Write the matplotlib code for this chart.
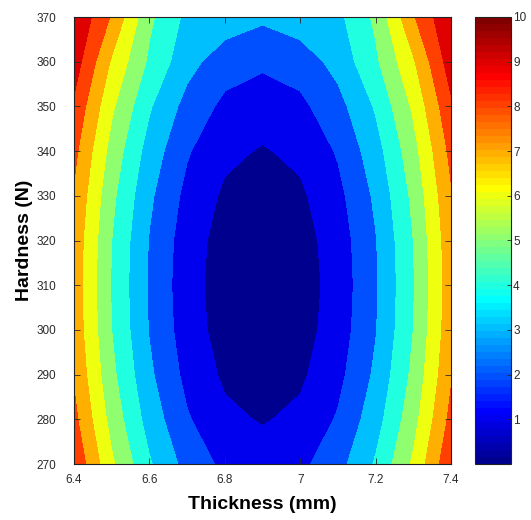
import numpy as np
import matplotlib
matplotlib.use("Agg")
import matplotlib.pyplot as plt
from matplotlib.colors import ListedColormap, Normalize
from matplotlib.cm import ScalarMappable

# ---- data ----
thickness = [6.4, 6.5, 6.6, 6.7, 6.8, 6.9, 7.0, 7.1, 7.2, 7.3, 7.4]
hardness = [270, 280, 290, 300, 310, 320, 330, 340, 350, 360, 370]
# rows follow hardness, columns follow thickness
z_270 = [8.82, 6.17, 4.11, 2.64, 1.76, 1.47, 1.76, 2.64, 4.11, 6.17, 8.82]
z_280 = [8.27, 5.63, 3.57, 2.10, 1.22, 0.92, 1.22, 2.10, 3.57, 5.63, 8.27]
z_290 = [7.88, 5.24, 3.18, 1.71, 0.83, 0.53, 0.83, 1.71, 3.18, 5.24, 7.88]
z_300 = [7.65, 5.00, 2.94, 1.47, 0.59, 0.30, 0.59, 1.47, 2.94, 5.00, 7.65]
z_310 = [7.57, 4.92, 2.87, 1.40, 0.51, 0.22, 0.51, 1.40, 2.87, 4.92, 7.57]
z_320 = [7.65, 5.00, 2.94, 1.47, 0.59, 0.30, 0.59, 1.47, 2.94, 5.00, 7.65]
z_330 = [7.88, 5.24, 3.18, 1.71, 0.83, 0.53, 0.83, 1.71, 3.18, 5.24, 7.88]
z_340 = [8.27, 5.63, 3.57, 2.10, 1.22, 0.92, 1.22, 2.10, 3.57, 5.63, 8.27]
z_350 = [8.82, 6.17, 4.11, 2.64, 1.76, 1.47, 1.76, 2.64, 4.11, 6.17, 8.82]
z_360 = [9.52, 6.87, 4.82, 3.35, 2.46, 2.17, 2.46, 3.35, 4.82, 6.87, 9.52]
z_370 = [9.95, 7.90, 5.20, 3.75, 3.56, 3.18, 3.56, 3.75, 5.20, 7.90, 9.95]

levels = [0, 1, 2, 3, 4, 5, 6, 7, 8, 9, 10]
x_ticks = [6.4, 6.6, 6.8, 7.0, 7.2, 7.4]
x_ticklabels = ["6.4", "6.6", "6.8", "7", "7.2", "7.4"]
y_ticks = [270, 280, 290, 300, 310, 320, 330, 340, 350, 360, 370]
cbar_ticks = [1, 2, 3, 4, 5, 6, 7, 8, 9, 10]


def matlab_jet(m=64):
    n = int(np.ceil(m / 4))
    u = np.concatenate([np.arange(1, n + 1) / n, np.ones(n - 1), np.arange(n, 0, -1) / n])
    g = int(np.ceil(n / 2)) - (1 if m % 4 == 1 else 0) + np.arange(1, len(u) + 1)
    r = g + n
    b = g - n
    J = np.zeros((m, 3))
    for idx, ch in ((r, 0), (g, 1), (b, 2)):
        mask = (idx >= 1) & (idx <= m)
        J[idx[mask] - 1, ch] = u[mask]
    return J


plt.rcParams["font.family"] = ["Liberation Sans", "DejaVu Sans"]

jet = matlab_jet(64)
cmap = ListedColormap(jet)
vmin, vmax = levels[0], levels[-1]
band_colors = [jet[min(int((lv - vmin) / (vmax - vmin) * 64), 63)] for lv in levels[:-1]]

Z = np.array([z_270, z_280, z_290, z_300, z_310, z_320, z_330,
              z_340, z_350, z_360, z_370])
X, Y = np.meshgrid(thickness, hardness)

W, H = 531, 520
fig = plt.figure(figsize=(W / 100, H / 100), dpi=100)
ax = fig.add_axes([74 / W, 56 / H, 377 / W, 447 / H])
ax.contourf(X, Y, Z, levels=levels, colors=band_colors, antialiased=False)
ax.set_xlim(6.4, 7.4)
ax.set_ylim(270, 370)
ax.set_xticks(x_ticks)
ax.set_xticklabels(x_ticklabels)
ax.set_yticks(y_ticks)
ax.tick_params(direction="in", top=True, right=True, length=4, width=0.6,
               labelsize=8.5, colors="#2a2a2a")
ax.tick_params(axis="y", pad=13)
ax.tick_params(axis="x", pad=7)
for s in ax.spines.values():
    s.set_linewidth(0.8)
    s.set_color("#222222")

ax.set_xlabel("Thickness (mm)", fontsize=14, fontweight="bold")
ax.xaxis.label.set_va("center")
ax.xaxis.set_label_coords(0.5, -0.09)
ax.set_ylabel("Hardness (N)", fontsize=14, fontweight="bold")
ax.yaxis.label.set_va("center")
ax.yaxis.set_label_coords(-0.13, 0.5)

cax = fig.add_axes([475 / W, 56 / H, 36 / W, 447 / H])
sm = ScalarMappable(norm=Normalize(vmin, vmax), cmap=cmap)
cb = fig.colorbar(sm, cax=cax, ticks=cbar_ticks)
cb.ax.tick_params(direction="in", length=3, width=0.6, pad=1.5, labelsize=8.5,
                  colors="#2a2a2a")
cb.outline.set_linewidth(0.8)
cb.outline.set_edgecolor("#222222")

fig.savefig("out.png", dpi=100)
